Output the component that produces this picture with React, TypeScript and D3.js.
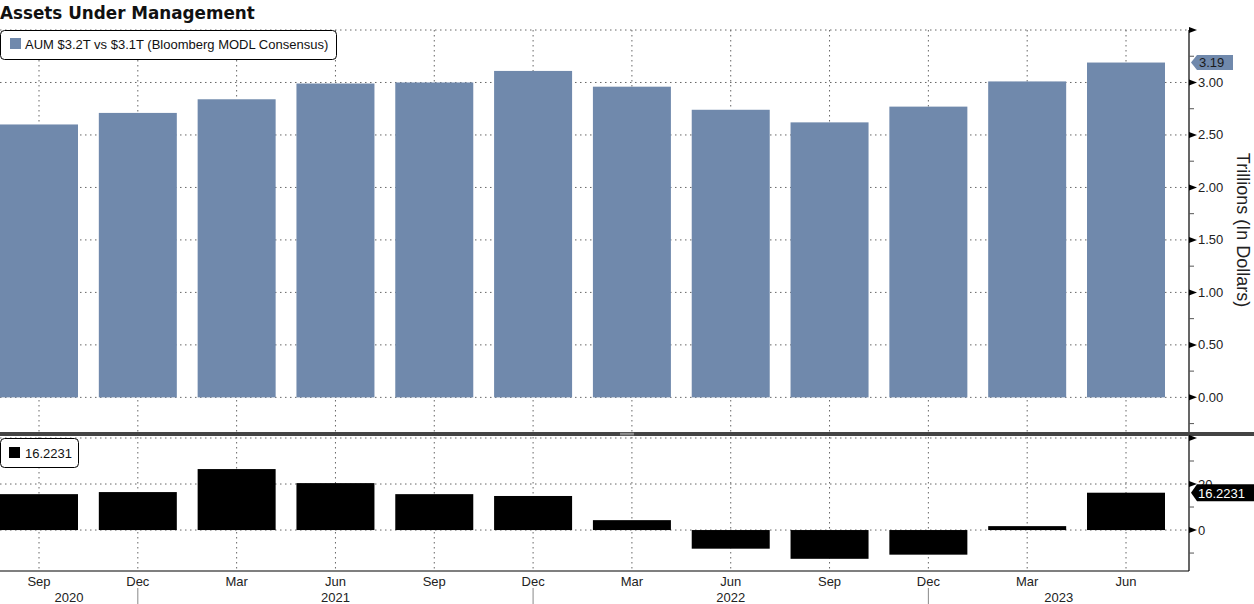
import React from "react";
import * as d3 from "d3";

const quarters = ["Sep", "Dec", "Mar", "Jun", "Sep", "Dec", "Mar", "Jun", "Sep", "Dec", "Mar", "Jun"];
const years = ["2020", "2021", "2022", "2023"];
const aum = [2.6, 2.71, 2.84, 2.99, 3.0, 3.11, 2.96, 2.74, 2.62, 2.77, 3.01, 3.19];
const yoy = [15.6, 16.5, 26.5, 20.4, 15.6, 14.8, 4.3, -8.1, -12.5, -10.7, 1.7, 16.2231];
const topTicks = [0, 0.5, 1, 1.5, 2, 2.5, 3, 3.5];
const topMinor = [-0.25, 0.25, 0.75, 1.25, 1.75, 2.25, 2.75, 3.25];
const botTicks = [0, 20, 40];
const botMinor = [-10, 10, 30];

const W = 1254;
const H = 604;
const AX = 1189;
const FONT = "'Liberation Sans', Arial, sans-serif";
const BAR = "#7089ac";

export default function App() {
  const x = d3.scaleLinear().domain([0, quarters.length - 1]).range([39, 1126]);
  const bw = 78;
  const yT = d3.scaleLinear().domain([-0.33, 3.5]).range([432, 30]);
  const yB = d3.scaleLinear().domain([-17.8, 40]).range([571, 438]);
  const grid = { stroke: "#666", strokeWidth: 1, strokeDasharray: "1.5,3.5" };

  const decIdx = quarters.map((q, i) => (q === "Dec" ? i : -1)).filter((i) => i >= 0);
  const bounds = [0, ...decIdx.map((i) => x(i)), AX];

  const lastA = aum[aum.length - 1];
  const lastY = yoy[yoy.length - 1];

  const tri = (y: number) => `${AX},${y - 3} ${AX + 8},${y} ${AX},${y + 3}`;
  const flag = (y: number, w: number, h: number) =>
    `${AX + 2},${y} ${AX + 8},${y - h / 2} ${AX + 2 + w},${y - h / 2} ${AX + 2 + w},${y + h / 2} ${AX + 8},${y + h / 2}`;

  return (
    <svg width={W} height={H} style={{ position: "absolute", left: 0, top: 0, background: "#fff" }} fontFamily={FONT}>
      <defs>
        <clipPath id="plot">
          <rect x={0} y={0} width={AX} height={H} />
        </clipPath>
      </defs>
      <text x={0} y={19} fontFamily="'DejaVu Sans', sans-serif" fontWeight="bold" fontSize={16.8} fill="#111">
        Assets Under Management
      </text>

      {/* vertical grid */}
      {quarters.map((q, i) => (
        <g key={"vg" + i}>
          <line x1={x(i)} x2={x(i)} y1={30} y2={432} {...grid} />
          <line x1={x(i)} x2={x(i)} y1={437} y2={571} {...grid} />
        </g>
      ))}
      {/* horizontal grid */}
      {topTicks.map((t) => (
        <line key={"hg" + t} x1={0} x2={AX} y1={yT(t)} y2={yT(t)} {...grid} />
      ))}
      {botTicks.map((t) => (
        <line key={"bg" + t} x1={0} x2={AX} y1={yB(t)} y2={yB(t)} {...grid} />
      ))}

      {/* bars */}
      <g clipPath="url(#plot)">
        {aum.map((v, i) => (
          <rect key={"a" + i} x={x(i) - bw / 2} width={bw} y={yT(v)} height={yT(0) - yT(v)} fill={BAR} />
        ))}
        {yoy.map((v, i) => (
          <rect
            key={"b" + i}
            x={x(i) - bw / 2}
            width={bw}
            y={Math.min(yB(v), yB(0))}
            height={Math.abs(yB(v) - yB(0))}
            fill="#000"
          />
        ))}
      </g>

      {/* separator */}
      <rect x={0} y={432} width={W} height={4} fill="#444" />
      <line x1={620} x2={634} y1={433.3} y2={433.3} stroke="#bbb" strokeWidth={0.8} />
      <line x1={620} x2={634} y1={434.8} y2={434.8} stroke="#bbb" strokeWidth={0.8} />

      {/* axes */}
      <line x1={AX} x2={AX} y1={30} y2={432} stroke="#000" strokeWidth={1.2} />
      <line x1={AX} x2={AX} y1={436} y2={571} stroke="#000" strokeWidth={1.2} />
      <line x1={0} x2={AX} y1={571} y2={571} stroke="#000" strokeWidth={1.2} />

      {topTicks.map((t) => (
        <polygon key={"tt" + t} points={tri(yT(t))} fill="#000" />
      ))}
      {topMinor.map((t) => (
        <line key={"tm" + t} x1={AX} x2={AX + 5} y1={yT(t)} y2={yT(t)} stroke="#555" />
      ))}
      {topTicks
        .filter((t) => t < 3.5)
        .map((t) => (
          <text key={"tl" + t} x={AX + 9} y={yT(t) + 4.5} fontSize={13} fill="#222">
            {d3.format(".2f")(t)}
          </text>
        ))}
      {botTicks.map((t) => (
        <polygon key={"bt" + t} points={tri(yB(t))} fill="#000" />
      ))}
      {botMinor.map((t) => (
        <line key={"bm" + t} x1={AX} x2={AX + 5} y1={yB(t)} y2={yB(t)} stroke="#555" />
      ))}
      {botTicks
        .filter((t) => t < 40)
        .map((t) => (
          <text key={"bl" + t} x={AX + 9} y={yB(t) + 4.5} fontSize={13} fill="#222">
            {t}
          </text>
        ))}

      <text
        transform={`translate(1237, 230) rotate(90)`}
        textAnchor="middle"
        fontSize={18}
        fill="#222"
      >
        Trillions (In Dollars)
      </text>

      {/* last value flags */}
      <polygon points={flag(yT(lastA), 42, 15)} fill={BAR} />
      <text x={AX + 10} y={yT(lastA) + 4.5} fontSize={13} fill="#1a1a1a">
        {d3.format(".2f")(lastA)}
      </text>
      <polygon points={flag(yB(lastY), 63, 17)} fill="#000" />
      <text x={AX + 9} y={yB(lastY) + 5} fontSize={13} fill="#fff">
        {lastY}
      </text>

      {/* legends */}
      <rect x={0.5} y={30.5} width={336} height={29} rx={4} fill="#fff" stroke="#000" />
      <rect x={10} y={38} width={11} height={11} fill={BAR} />
      <text x={25} y={49} fontSize={13} fill="#111">
        AUM $3.2T vs $3.1T (Bloomberg MODL Consensus)
      </text>
      <rect x={0.5} y={438.5} width={78} height={29} rx={4} fill="#fff" stroke="#000" />
      <rect x={9} y={447} width={11} height={11} fill="#000" />
      <text x={25} y={458} fontSize={13} fill="#111">
        {lastY}
      </text>

      {/* x axis labels */}
      {quarters.map((q, i) => (
        <text key={"xl" + i} x={x(i)} y={586} textAnchor="middle" fontSize={13} fill="#222">
          {q}
        </text>
      ))}
      {decIdx.map((i) => (
        <line key={"yb" + i} x1={x(i)} x2={x(i)} y1={588} y2={H} stroke="#888" />
      ))}
      {years.map((yr, k) => (
        <text
          key={yr}
          x={(bounds[k] + bounds[k + 1]) / 2}
          y={602}
          textAnchor="middle"
          fontSize={13}
          fill="#222"
        >
          {yr}
        </text>
      ))}
    </svg>
  );
}
